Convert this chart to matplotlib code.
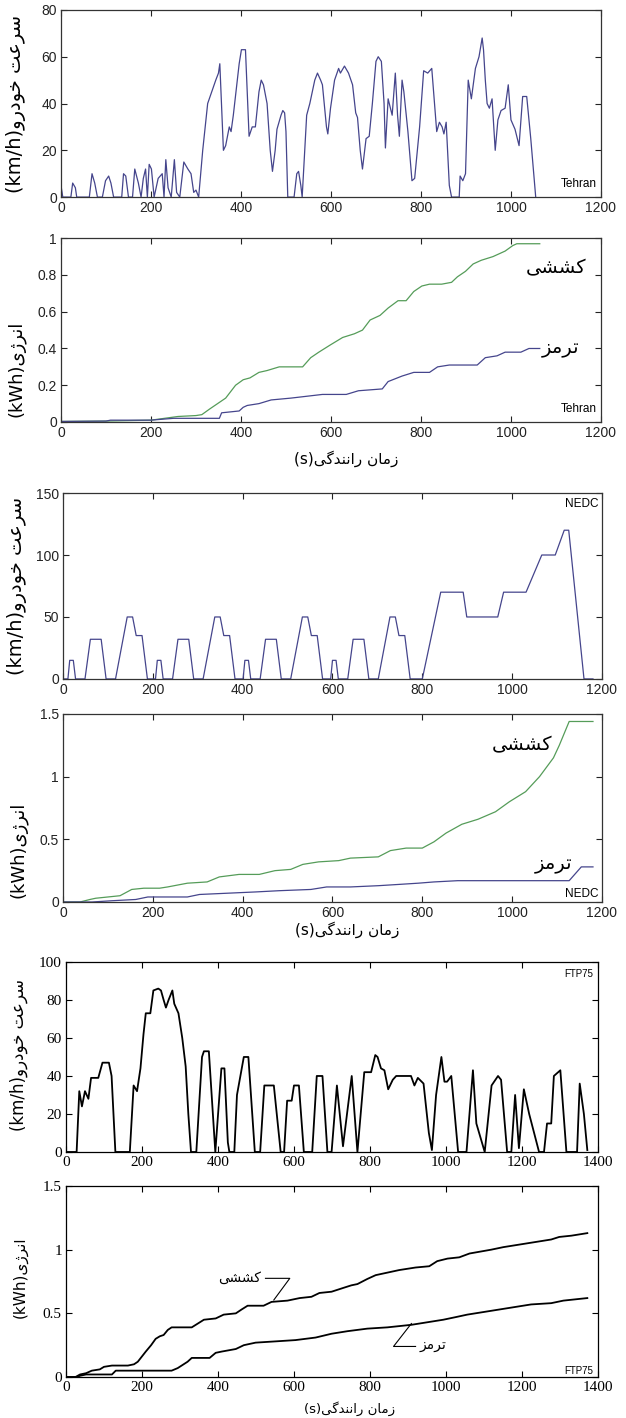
import matplotlib
matplotlib.use("Agg")
import matplotlib.pyplot as plt

# ---------------- data ----------------
# Tehran cycle, speed (km/h)
tehran_t = [0, 4, 22, 26, 32, 35, 63, 69, 75, 81, 92, 99, 106, 111, 117, 135, 139, 144, 150,
            159, 164, 172, 178, 183, 188, 192, 196, 201, 207, 216, 225, 229, 233, 238, 245,
            252, 257, 264, 273, 282, 289, 295, 300, 306, 315, 326, 335, 344, 350, 353, 361,
            366, 374, 378, 383, 392, 396, 401, 410, 418, 425, 432, 440, 445, 450, 458, 465,
            470, 476, 480, 489, 493, 497, 500, 504, 518, 524, 528, 533, 536, 546, 553, 564,
            570, 577, 581, 590, 593, 599, 608, 617, 621, 630, 639, 648, 655, 659, 665, 670,
            678, 685, 692, 700, 705, 712, 718, 721, 727, 736, 743, 748, 752, 758, 762, 771,
            780, 786, 797, 806, 815, 824, 830, 835, 841, 847, 851, 856, 863, 868, 885, 887,
            893, 899, 905, 912, 921, 929, 936, 939, 943, 947, 952, 958, 965, 971, 978, 987,
            994, 1000, 1009, 1018, 1026, 1035, 1044, 1055]
tehran_v = [5, 0, 0, 6, 4, 0, 0, 10, 6, 0, 0, 7, 9, 6, 0, 0, 10, 9, 0,
            0, 12, 6, 0, 8, 12, 0, 14, 12, 0, 8, 10, 0, 16, 4, 0,
            16, 2, 0, 15, 12, 10, 2, 3, 0, 20, 40, 45, 50, 53, 57, 20,
            22, 30, 28, 35, 50, 57, 63, 63, 26, 30, 30, 45, 50, 48, 40, 20,
            11, 20, 29, 35, 37, 36, 28, 0, 0, 10, 11, 5, 0, 35, 40, 50,
            53, 50, 48, 30, 27, 38, 50, 55, 53, 56, 53, 48, 36, 34, 20, 12,
            25, 26, 40, 58, 60, 58, 40, 21, 42, 35, 53, 35, 26, 50, 45, 28,
            7, 8, 30, 54, 53, 55, 40, 28, 32, 30, 27, 32, 5, 0, 0, 9,
            7, 10, 50, 42, 55, 60, 68, 63, 50, 40, 38, 42, 20, 33, 37, 38,
            48, 33, 29, 22, 43, 43, 25, 0]

# Tehran cycle, cumulative energy (kWh)
tehran_trac_t = [0, 100, 200, 230, 260, 300, 313, 330, 348, 366, 388, 405, 420, 440, 458, 485,
                 537, 555, 573, 599, 626, 652, 670, 687, 709, 727, 749, 767, 784, 802, 819,
                 846, 868, 881, 899, 916, 934, 960, 987, 1004, 1013, 1064]
tehran_trac_e = [0.003, 0.005, 0.01, 0.02, 0.03, 0.035, 0.04, 0.07, 0.1, 0.13, 0.2, 0.23, 0.24,
                 0.27, 0.28, 0.3, 0.3, 0.35, 0.38, 0.42, 0.46, 0.48, 0.5, 0.555, 0.58, 0.62,
                 0.66, 0.66, 0.71, 0.74, 0.75, 0.75, 0.76, 0.79, 0.82, 0.86, 0.88, 0.9, 0.93,
                 0.96, 0.97, 0.97]
tehran_brake_t = [0, 100, 110, 200, 250, 352, 357, 396, 405, 414, 440, 467, 511, 546, 581, 634,
                  661, 714, 727, 758, 784, 819, 837, 863, 925, 943, 969, 987, 1022, 1040, 1064]
tehran_brake_e = [0.003, 0.005, 0.01, 0.01, 0.02, 0.02, 0.05, 0.06, 0.08, 0.09, 0.1, 0.12, 0.13,
                  0.14, 0.15, 0.15, 0.17, 0.18, 0.22, 0.25, 0.27, 0.27, 0.3, 0.31, 0.31, 0.35,
                  0.36, 0.38, 0.38, 0.4, 0.4]

# NEDC, speed (km/h)
nedc_t = [0, 11, 15, 23, 28, 49, 61, 85, 96, 117, 143, 155, 163, 176, 188,
          195, 206, 210, 218, 223, 244, 256, 280, 291, 312, 338, 350, 358, 371, 383,
          390, 401, 405, 413, 418, 439, 451, 475, 486, 507, 533, 545, 553, 566, 578,
          585, 596, 600, 608, 613, 634, 646, 670, 681, 702, 728, 740, 748, 761, 773,
          800, 841, 891, 899, 968, 981, 1031, 1066, 1096, 1116, 1126, 1160, 1180]
nedc_v = [0, 0, 15, 15, 0, 0, 32, 32, 0, 0, 50, 50, 35, 35, 0,
          0, 0, 15, 15, 0, 0, 32, 32, 0, 0, 50, 50, 35, 35, 0,
          0, 0, 15, 15, 0, 0, 32, 32, 0, 0, 50, 50, 35, 35, 0,
          0, 0, 15, 15, 0, 0, 32, 32, 0, 0, 50, 50, 35, 35, 0,
          0, 70, 70, 50, 50, 70, 70, 100, 100, 120, 120, 0, 0]

# NEDC, cumulative energy (kWh)
nedc_trac_t = [0, 38, 60, 73, 100, 127, 153, 180, 215, 233, 277, 321, 348, 392, 437, 472, 507,
               534, 569, 614, 640, 702, 729, 764, 800, 826, 853, 888, 924, 963, 994, 1030,
               1061, 1092, 1105, 1127, 1180]
nedc_trac_e = [0, 0, 0.02, 0.03, 0.04, 0.05, 0.1, 0.11, 0.11, 0.12, 0.15, 0.16, 0.2, 0.22, 0.22,
               0.25, 0.26, 0.3, 0.32, 0.33, 0.35, 0.36, 0.41, 0.43, 0.43, 0.48, 0.55, 0.62,
               0.66, 0.72, 0.8, 0.88, 1.0, 1.15, 1.25, 1.44, 1.44]
nedc_brake_t = [0, 65, 109, 162, 189, 277, 304, 366, 428, 481, 552, 587, 640, 702, 747, 791,
                826, 879, 1127, 1154, 1180]
nedc_brake_e = [0, 0, 0.01, 0.02, 0.04, 0.04, 0.06, 0.07, 0.08, 0.09, 0.1, 0.12, 0.12, 0.13,
                0.14, 0.15, 0.16, 0.17, 0.17, 0.28, 0.28]

# FTP75, speed (km/h)
ftp_t = [0, 28, 35, 42, 50, 59, 66, 85, 96, 113, 120, 130, 168, 178, 187, 196, 204, 210, 222,
         230, 243, 250, 257, 263, 270, 280, 285, 296, 306, 315, 322, 329, 343, 358, 363, 376,
         393, 409, 417, 426, 430, 443, 450, 468, 480, 497, 511, 522, 547, 565, 574, 582, 594,
         600, 613, 626, 648, 660, 675, 688, 699, 713, 718, 729, 752, 767, 785, 803, 814, 820,
         829, 838, 848, 860, 869, 908, 917, 926, 941, 955, 963, 974, 988, 996, 1003, 1014,
         1032, 1054, 1071, 1080, 1102, 1120, 1137, 1145, 1161, 1172, 1182, 1192, 1205, 1219,
         1245, 1258, 1266, 1277, 1284, 1301, 1317, 1345, 1352, 1363, 1372]
ftp_v = [0, 0, 32, 24, 32, 28, 39, 39, 47, 47, 40, 0, 0, 35, 32, 44, 62, 73, 73,
         85, 86, 85, 80, 76, 80, 85, 78, 73, 60, 45, 20, 0, 0, 50, 53, 53,
         0, 44, 44, 5, 0, 0, 30, 50, 50, 0, 0, 35, 35, 0, 0, 27, 27,
         35, 35, 0, 0, 40, 40, 0, 0, 35, 25, 3, 40, 0, 42, 42, 51, 50,
         44, 43, 33, 38, 40, 40, 35, 39, 36, 10, 1, 30, 50, 37, 37, 40,
         0, 0, 43, 15, 0, 35, 40, 38, 0, 0, 30, 2, 33, 20,
         0, 0, 15, 15, 40, 43, 0, 0, 36, 20, 1]

# FTP75, cumulative energy (kWh)
ftp_trac_t = [0, 25, 37, 53, 68, 89, 100, 121, 163, 179, 189, 210, 224, 236, 247, 257, 268,
              278, 331, 347, 363, 394, 415, 447, 462, 478, 520, 541, 583, 615, 646, 667, 699,
              730, 751, 767, 793, 815, 846, 877, 920, 956, 977, 1004, 1035, 1062, 1119, 1151,
              1193, 1235, 1277, 1298, 1330, 1372]
ftp_trac_e = [0, 0, 0.02, 0.03, 0.05, 0.06, 0.08, 0.09, 0.09, 0.1, 0.12, 0.2, 0.25, 0.3, 0.32,
              0.33, 0.37, 0.39, 0.39, 0.42, 0.45, 0.46, 0.49, 0.5, 0.53, 0.56, 0.56, 0.59, 0.6,
              0.62, 0.63, 0.66, 0.67, 0.7, 0.72, 0.73, 0.77, 0.8, 0.82, 0.84, 0.86, 0.87, 0.91,
              0.93, 0.94, 0.97, 1.0, 1.02, 1.04, 1.06, 1.08, 1.1, 1.11, 1.13]
ftp_brake_t = [0, 30, 37, 53, 121, 131, 278, 294, 320, 331, 378, 394, 410, 447, 468, 499, 552,
               604, 657, 699, 741, 793, 846, 909, 951, 993, 1025, 1056, 1098, 1140, 1182, 1224,
               1277, 1309, 1372]
ftp_brake_e = [0, 0, 0.01, 0.02, 0.02, 0.05, 0.05, 0.07, 0.12, 0.15, 0.15, 0.19, 0.2, 0.22, 0.25,
               0.27, 0.28, 0.29, 0.31, 0.34, 0.36, 0.38, 0.39, 0.41, 0.43, 0.45, 0.47, 0.49,
               0.51, 0.53, 0.55, 0.57, 0.58, 0.6, 0.62]

ticks_1200 = [0, 200, 400, 600, 800, 1000, 1200]
ticks_1400 = [0, 200, 400, 600, 800, 1000, 1200, 1400]
speed80_ticks = [0, 20, 40, 60, 80]
speed150_ticks = [0, 50, 100, 150]
speed100_ticks = [0, 20, 40, 60, 80, 100]
energy1_ticks = [0, 0.2, 0.4, 0.6, 0.8, 1]
energy1_labels = ["0", "0.2", "0.4", "0.6", "0.8", "1"]
energy15_ticks = [0, 0.5, 1, 1.5]
energy15_labels = ["0", "0.5", "1", "1.5"]

speed_label = "سرعت خودرو"
energy_label = "انرژی"
time_label = "زمان رانندگی"
trac_label = "کششی"
brake_label = "ترمز"

# ---------------- Persian shaping (matplotlib has no text shaping) ----------------
FORMS = {
    "ا": ("\uFE8D", "\uFE8E", None, None),
    "ت": ("\uFE95", "\uFE96", "\uFE97", "\uFE98"),
    "خ": ("\uFEA5", "\uFEA6", "\uFEA7", "\uFEA8"),
    "د": ("\uFEA9", "\uFEAA", None, None),
    "ر": ("\uFEAD", "\uFEAE", None, None),
    "ز": ("\uFEAF", "\uFEB0", None, None),
    "ژ": ("\uFB8A", "\uFB8B", None, None),
    "س": ("\uFEB1", "\uFEB2", "\uFEB3", "\uFEB4"),
    "ش": ("\uFEB5", "\uFEB6", "\uFEB7", "\uFEB8"),
    "ع": ("\uFEC9", "\uFECA", "\uFECB", "\uFECC"),
    "ک": ("\uFB8E", "\uFB8F", "\uFB90", "\uFB91"),
    "گ": ("\uFB92", "\uFB93", "\uFB94", "\uFB95"),
    "م": ("\uFEE1", "\uFEE2", "\uFEE3", "\uFEE4"),
    "ن": ("\uFEE5", "\uFEE6", "\uFEE7", "\uFEE8"),
    "و": ("\uFEED", "\uFEEE", None, None),
    "ی": ("\uFBFC", "\uFBFD", "\uFBFE", "\uFBFF"),
}


def fa(text):
    out = []
    for i, ch in enumerate(text):
        if ch not in FORMS:
            out.append(ch)
            continue
        prev = text[i - 1] if i > 0 else ""
        nxt = text[i + 1] if i + 1 < len(text) else ""
        join_prev = prev in FORMS and FORMS[prev][2] is not None
        join_next = nxt in FORMS and FORMS[ch][2] is not None
        iso, fin, ini, med = FORMS[ch]
        if join_prev and join_next:
            out.append(med)
        elif join_prev:
            out.append(fin)
        elif join_next:
            out.append(ini)
        else:
            out.append(iso)
    return "".join(out)[::-1]


# ---------------- drawing ----------------
plt.rcParams["font.family"] = ["DejaVu Sans"]
BLUE = "#45458c"
GREEN = "#559c59"
SANS_NARROW = ["Liberation Sans Narrow", "Liberation Sans", "DejaVu Sans"]
SERIF = ["Liberation Serif", "DejaVu Serif"]

fig = plt.figure(figsize=(6.26, 14.18), dpi=100)


def style(ax, xt, yt, ylabels=None, serif=False, xmax=1200, ymax=80):
    ax.set_xlim(0, xmax)
    ax.set_ylim(0, ymax)
    ax.set_xticks(xt)
    ax.set_yticks(yt)
    if ylabels is not None:
        ax.set_yticklabels(ylabels)
    ax.tick_params(direction="in", top=True, right=True, length=4, width=0.8,
                   labelsize=11 if serif else 10, pad=3,
                   colors="#222222" if not serif else "black")
    for lab in ax.get_xticklabels() + ax.get_yticklabels():
        lab.set_fontfamily(SERIF if serif else SANS_NARROW)
    for s in ax.spines.values():
        s.set_color("#333333" if not serif else "black")
        s.set_linewidth(0.9)


# Panel 1: Tehran speed
ax1 = fig.add_axes([0.0974, 0.861, 0.8626, 0.132])
ax1.plot(tehran_t, tehran_v, color=BLUE, lw=0.9)
style(ax1, ticks_1200, speed80_ticks, ymax=80)
ax1.set_ylabel("(km/h)" + fa(speed_label), fontsize=14)
ax1.yaxis.set_label_coords(-0.064, 0.5)
ax1.text(1190, 5.6, "Tehran", fontsize=8.5, ha="right", va="center", family=SANS_NARROW)

# Panel 2: Tehran energy
ax2 = fig.add_axes([0.0974, 0.7024, 0.8626, 0.1296])
ax2.plot(tehran_trac_t, tehran_trac_e, color=GREEN, lw=0.9)
ax2.plot(tehran_brake_t, tehran_brake_e, color=BLUE, lw=0.9)
style(ax2, ticks_1200, energy1_ticks, energy1_labels, ymax=1)
ax2.set_ylabel("(kWh)" + fa(energy_label), fontsize=13)
ax2.yaxis.set_label_coords(-0.066, 0.29)
ax2.set_xlabel("(s)" + fa(time_label), fontsize=11)
ax2.xaxis.set_label_coords(0.528, -0.155)
ax2.text(1100, 0.84, fa(trac_label), fontsize=14, ha="center", va="center")
ax2.text(1110, 0.40, fa(brake_label), fontsize=14, ha="center", va="center")
ax2.text(1190, 0.073, "Tehran", fontsize=8.5, ha="right", va="center", family=SANS_NARROW)

# Panel 3: NEDC speed
ax3 = fig.add_axes([0.1006, 0.5212, 0.8610, 0.1311])
ax3.plot(nedc_t, nedc_v, color=BLUE, lw=0.9)
style(ax3, ticks_1200, speed150_ticks, ymax=150)
ax3.set_ylabel("(km/h)" + fa(speed_label), fontsize=14)
ax3.yaxis.set_label_coords(-0.066, 0.5)
ax3.text(1192, 141, "NEDC", fontsize=8.5, ha="right", va="center", family=SANS_NARROW)

# Panel 4: NEDC energy
ax4 = fig.add_axes([0.1006, 0.3639, 0.8610, 0.1326])
ax4.plot(nedc_trac_t, nedc_trac_e, color=GREEN, lw=0.9)
ax4.plot(nedc_brake_t, nedc_brake_e, color=BLUE, lw=0.9)
style(ax4, ticks_1200, energy15_ticks, energy15_labels, ymax=1.5)
ax4.set_ylabel("(kWh)" + fa(energy_label), fontsize=13)
ax4.yaxis.set_label_coords(-0.066, 0.275)
ax4.set_xlabel("(s)" + fa(time_label), fontsize=11)
ax4.xaxis.set_label_coords(0.528, -0.105)
ax4.text(1021, 1.25, fa(trac_label), fontsize=14, ha="center", va="center")
ax4.text(1092, 0.30, fa(brake_label), fontsize=14, ha="center", va="center")
ax4.text(1192, 0.06, "NEDC", fontsize=8.5, ha="right", va="center", family=SANS_NARROW)

# Panel 5: FTP75 speed
ax5 = fig.add_axes([0.1054, 0.1876, 0.8498, 0.134])
ax5.plot(ftp_t, ftp_v, color="black", lw=1.3)
style(ax5, ticks_1400, speed100_ticks, serif=True, xmax=1400, ymax=100)
ax5.set_ylabel("(km/h)" + fa(speed_label), fontsize=12)
ax5.yaxis.set_label_coords(-0.072, 0.51)
ax5.text(1388, 93.5, "FTP75", fontsize=7, ha="right", va="center", family=SANS_NARROW)

# Panel 6: FTP75 energy
ax6 = fig.add_axes([0.1054, 0.0289, 0.8498, 0.1347])
ax6.plot(ftp_trac_t, ftp_trac_e, color="black", lw=1.3)
ax6.plot(ftp_brake_t, ftp_brake_e, color="black", lw=1.3)
style(ax6, ticks_1400, energy15_ticks, energy15_labels, serif=True, xmax=1400, ymax=1.5)
ax6.set_ylabel("(kWh)" + fa(energy_label), fontsize=11)
ax6.yaxis.set_label_coords(-0.072, 0.52)
ax6.set_xlabel("(s)" + fa(time_label), fontsize=9.5)
ax6.xaxis.set_label_coords(0.534, -0.128)
# leader lines for the two curve names
ax6.plot([525, 589, 547], [0.775, 0.775, 0.605], color="black", lw=0.8)
ax6.plot([909, 862, 920], [0.42, 0.24, 0.24], color="black", lw=0.8)
ax6.text(512, 0.78, fa(trac_label), fontsize=10, ha="right", va="center")
ax6.text(930, 0.25, fa(brake_label), fontsize=10, ha="left", va="center")
ax6.text(1388, 0.05, "FTP75", fontsize=7, ha="right", va="center", family=SANS_NARROW)

fig.savefig("out.png", dpi=100)
